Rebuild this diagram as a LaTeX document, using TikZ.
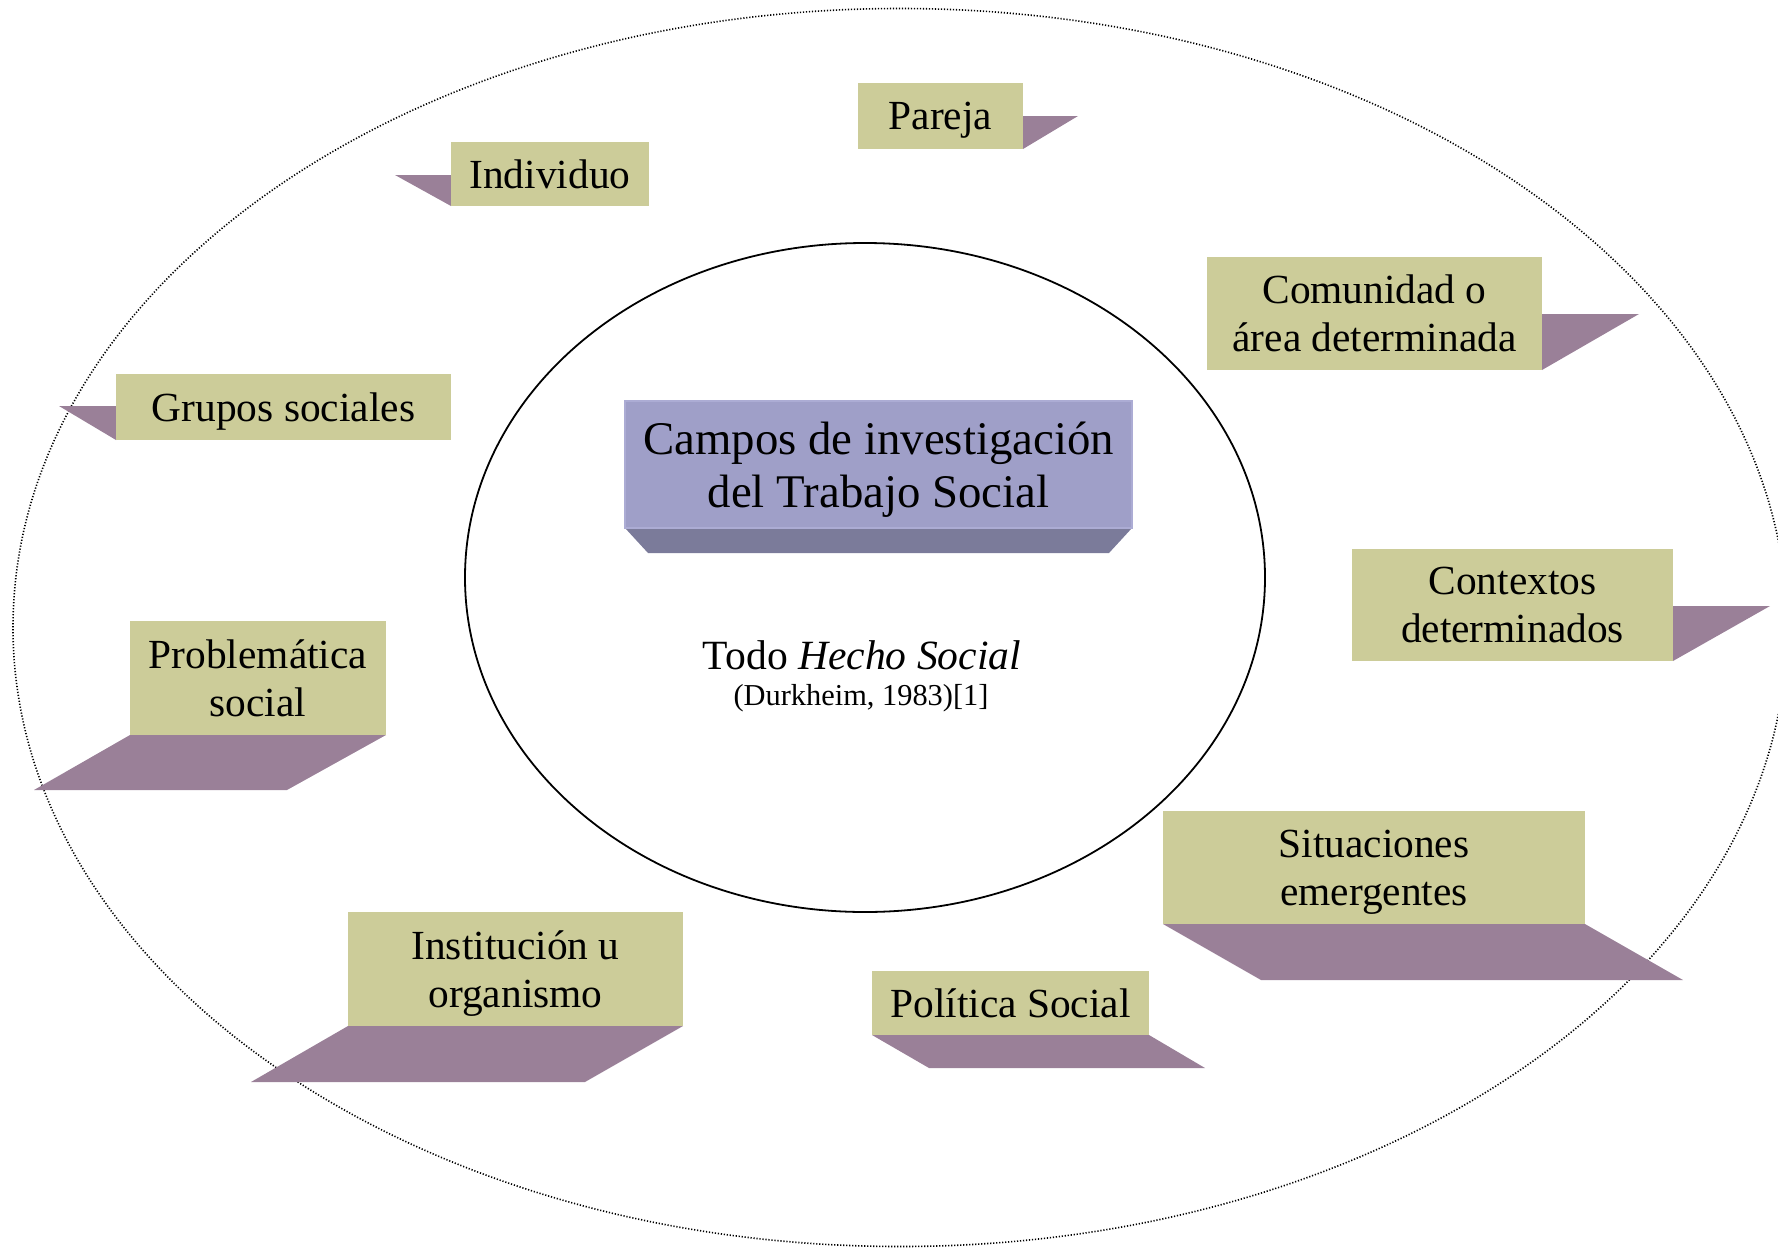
\documentclass[tikz,border=0pt]{standalone}
\usepackage{fontspec}
\setmainfont{Liberation Serif}
\definecolor{boxgreen}{RGB}{204,204,153}
\definecolor{shadowpurple}{RGB}{154,128,152}
\definecolor{titleface}{RGB}{159,159,200}
\definecolor{titlebevel}{RGB}{123,123,154}
\definecolor{titleedge}{RGB}{172,172,212}
\tikzset{
  greenbox/.style={fill=boxgreen, draw=none, inner sep=0pt, align=center, text depth=0pt, font=\fontsize{20.7}{24}\selectfont},
  shadowfill/.style={fill=shadowpurple, draw=none},
  titlebox/.style={fill=titleface, draw=titleedge, line width=0.6pt, inner sep=0pt, align=center, text depth=0pt, font=\fontsize{23.4}{26.5}\selectfont},
}
\begin{document}
\begin{tikzpicture}[x=0.5pt, y=-0.5pt]
\useasboundingbox (0,0) rectangle (1778,1248);
\begin{scope}
\clip (0,0) rectangle (1778,1248);
% outer dotted ellipse
\draw[dash pattern=on 0.6pt off 0.9pt, line width=0.8pt] (900,627.5) ellipse [x radius=887, y radius=619];
\end{scope}
% inner ellipse
\draw[line width=0.9pt] (865,577.5) ellipse [x radius=400, y radius=334.5];

% shadows
\fill[shadowfill] (1023,116) -- (1078,116) -- (1023,149) -- cycle; % Pareja
\fill[shadowfill] (395,175) -- (451,175) -- (451,206) -- cycle; % Individuo
\fill[shadowfill] (1542,314) -- (1639,314) -- (1542,370) -- cycle; % Comunidad
\fill[shadowfill] (59,406) -- (116,406) -- (116,440) -- cycle; % Grupos
\fill[shadowfill] (1673,606) -- (1770,606) -- (1673,661) -- cycle; % Contextos
\fill[shadowfill] (130,735) -- (386,735) -- (287,790) -- (34,790) -- cycle; % Problematica
\fill[shadowfill] (348,1026) -- (683,1026) -- (585,1082) -- (251,1082) -- cycle; % Institucion
\fill[shadowfill] (872,1035) -- (1149,1035) -- (1205,1068) -- (929,1068) -- cycle; % Politica
\fill[shadowfill] (1163,924) -- (1585,924) -- (1683,980) -- (1261,980) -- cycle; % Situaciones

% title box bevel
\fill[titlebevel] (625,528) -- (1132,528) -- (1109,553) -- (648,553) -- cycle;

% nodes
\node[titlebox, minimum width=253.5pt, minimum height=63.5pt] (title) at (878.5,464.5) {Campos de investigación\\del Trabajo Social};

\node[greenbox, minimum width=82.5pt, minimum height=33pt] (pareja) at (940.5,116) {Pareja};
\node[greenbox, minimum width=99pt, minimum height=32pt] (individuo) at (550,174) {Individuo};
\node[greenbox, minimum width=167.5pt, minimum height=56.5pt] (comunidad) at (1374.5,313.5) {Comunidad o\\área determinada};
\node[greenbox, minimum width=167.5pt, minimum height=33pt] (grupos) at (283.5,407) {Grupos sociales};
\node[greenbox, minimum width=160.5pt, minimum height=56pt] (contextos) at (1512.5,605) {Contextos\\determinados};
\node[greenbox, minimum width=128pt, minimum height=57pt] (problematica) at (258,678) {Problemática\\social};
\node[greenbox, minimum width=167.5pt, minimum height=57pt] (institucion) at (515.5,969) {Institución u\\organismo};
\node[greenbox, minimum width=138.5pt, minimum height=32pt] (politica) at (1010.5,1003) {Política Social};
\node[greenbox, minimum width=211pt, minimum height=56.5pt] (situaciones) at (1374,867.5) {Situaciones\\emergentes};

\node[anchor=base, inner sep=0pt, font=\fontsize{20.8}{24}\selectfont] (todo) at (862,669) {Todo \textit{Hecho Social}};
\node[anchor=base, inner sep=0pt, font=\fontsize{15.2}{17}\selectfont] (durk) at (861,705) {(Durkheim, 1983)[1]};
\end{tikzpicture}
\end{document}
